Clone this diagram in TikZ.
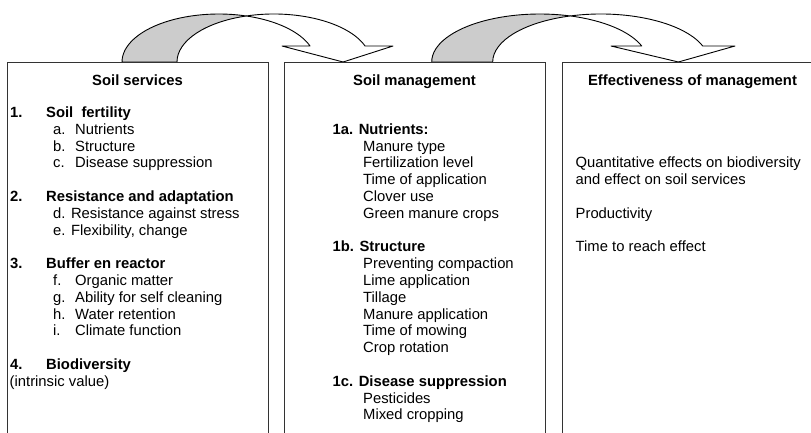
\documentclass[tikz,border=0pt]{standalone}
\usepackage{fontspec}
\setmainfont{Liberation Sans}
\begin{document}
\begin{tikzpicture}[x=1pt,y=1pt,
  box/.style={draw=black!80, line width=1.4pt, anchor=north west, minimum width=261pt, minimum height=420pt, inner sep=0pt},
  txt/.style={anchor=base west, inner sep=0pt, font=\fontsize{14.8}{16.8}\selectfont},
  bld/.style={txt, font=\fontsize{14.8}{16.8}\selectfont\bfseries},
  ttl/.style={anchor=base, inner sep=0pt, font=\fontsize{14.8}{16.8}\selectfont\bfseries},
  back/.style={fill=gray!40, draw=black, line width=0.9pt, line join=round},
  front/.style={fill=white, draw=black, line width=0.9pt, line join=round}]
\useasboundingbox (0,0) rectangle (811,-433);
\clip (0,0) rectangle (811,-433);

% curved arrow 1
\filldraw[back] (122,-62) arc[start angle=180, end angle=73.495, x radius=96.8pt, y radius=48pt]
  arc[start angle=106.505, end angle=180, x radius=96.8pt, y radius=48pt] -- cycle;
\filldraw[front] (246.3,-15.98) arc[start angle=106.505, end angle=19.471, x radius=96.8pt, y radius=48pt]
  -- (393,-46) -- (343.1,-62) -- (282,-46) -- (310.06,-46)
  arc[start angle=19.471, end angle=73.495, x radius=96.8pt, y radius=48pt] -- cycle;

% curved arrow 2
\filldraw[back] (431.7,-62) arc[start angle=180, end angle=73.611, x radius=108.1pt, y radius=48pt]
  arc[start angle=106.389, end angle=180, x radius=108.1pt, y radius=48pt] -- cycle;
\filldraw[front] (570.3,-15.95) arc[start angle=106.389, end angle=19.471, x radius=108.1pt, y radius=48pt]
  -- (735,-46) -- (678.4,-62) -- (611,-46) -- (641.72,-46)
  arc[start angle=19.471, end angle=73.611, x radius=108.1pt, y radius=48pt] -- cycle;

% boxes
\node[box] (b1) at (7,-62) {};
\node[box] (b2) at (284,-62) {};
\node[box] (b3) at (562,-62) {};

\begin{scope}[yshift=-2.5pt]
% box 1
\node[ttl] (t1) at (137.5,-83) {Soil services};
\node[bld] (s1) at (10,-115) {\makebox[36pt][l]{1.}Soil~ fertility};
\node[txt] (s1a) at (53,-131.8) {\makebox[22pt][l]{a.}Nutrients};
\node[txt] (s1b) at (53,-148.6) {\makebox[22pt][l]{b.}Structure};
\node[txt] (s1c) at (53,-165.4) {\makebox[22pt][l]{c.}Disease suppression};
\node[bld] (s2) at (10,-199) {\makebox[36pt][l]{2.}Resistance and adaptation};
\node[txt] (s2d) at (53,-215.8) {d. Resistance against stress};
\node[txt] (s2e) at (53,-232.6) {e. Flexibility, change};
\node[bld] (s3) at (10,-266.2) {\makebox[36pt][l]{3.}Buffer en reactor};
\node[txt] (s3f) at (53,-283) {\makebox[22pt][l]{f.}Organic matter};
\node[txt] (s3g) at (53,-299.8) {\makebox[22pt][l]{g.}Ability for self cleaning};
\node[txt] (s3h) at (53,-316.6) {\makebox[22pt][l]{h.}Water retention};
\node[txt] (s3i) at (53,-333.4) {\makebox[22pt][l]{i.}Climate function};
\node[bld] (s4) at (10,-367) {\makebox[36pt][l]{4.}Biodiversity};
\node[txt] (s4v) at (9.5,-383.8) {(intrinsic value)};

% box 2
\node[ttl] (t2) at (414.5,-83) {Soil management};
\node[bld] (m1) at (332.5,-131.8) {1a. Nutrients:};
\node[txt] (m1a) at (363,-148.6) {Manure type};
\node[txt] (m1b) at (363,-165.4) {Fertilization level};
\node[txt] (m1c) at (363,-182.2) {Time of application};
\node[txt] (m1d) at (363,-199) {Clover use};
\node[txt] (m1e) at (363,-215.8) {Green manure crops};
\node[bld] (m2) at (332.5,-249.4) {1b. Structure};
\node[txt] (m2a) at (363,-266.2) {Preventing compaction};
\node[txt] (m2b) at (363,-283) {Lime application};
\node[txt] (m2c) at (363,-299.8) {Tillage};
\node[txt] (m2d) at (363,-316.6) {Manure application};
\node[txt] (m2e) at (363,-333.4) {Time of mowing};
\node[txt] (m2f) at (363,-350.2) {Crop rotation};
\node[bld] (m3) at (332.5,-383.8) {1c. Disease suppression};
\node[txt] (m3a) at (363,-400.6) {Pesticides};
\node[txt] (m3b) at (363,-417.4) {Mixed cropping};

% box 3
\node[ttl] (t3) at (692.5,-83) {Effectiveness of management};
\node[txt] (e1) at (575.5,-165.4) {Quantitative effects on biodiversity};
\node[txt] (e2) at (575.5,-182.2) {and effect on soil services};
\node[txt] (e3) at (575.5,-215.8) {Productivity};
\node[txt] (e4) at (575.5,-249.4) {Time to reach effect};
\end{scope}
\end{tikzpicture}
\end{document}
